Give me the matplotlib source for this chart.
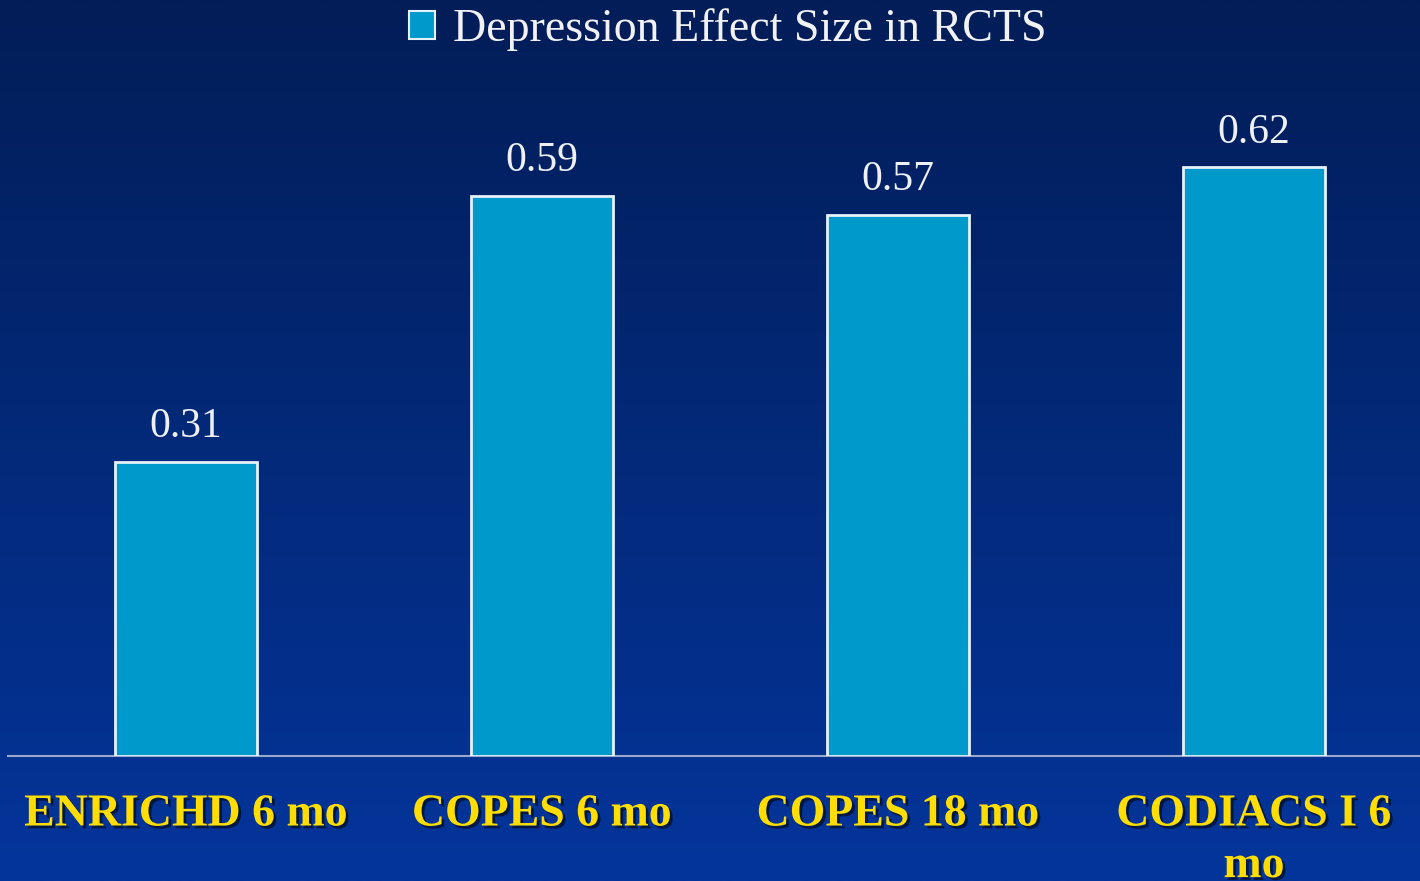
import numpy as np
import matplotlib
matplotlib.use("Agg")
import matplotlib.pyplot as plt
import matplotlib.patheffects as pe
from matplotlib.patches import Patch

categories = ["ENRICHD 6 mo", "COPES 6 mo", "COPES 18 mo", "CODIACS I 6\nmo"]
effect_sizes = [0.31, 0.59, 0.57, 0.62]
series_name = "Depression Effect Size in RCTS"

W, H, DPI = 1420, 881, 100
fig = plt.figure(figsize=(W / DPI, H / DPI), dpi=DPI)

# vertical gradient backdrop: deep navy at top to royal blue at bottom
bg = fig.add_axes([0, 0, 1, 1], zorder=-10)
top = np.array([0x02, 0x1d, 0x57]) / 255
bot = np.array([0x04, 0x35, 0x9b]) / 255
t = np.linspace(0, 1, 256)[:, None]
grad = top[None, :] * (1 - t) + bot[None, :] * t
bg.imshow(grad[:, None, :], aspect="auto", extent=[0, 1, 0, 1], interpolation="bilinear")
bg.set_axis_off()

serif = ["Liberation Serif", "DejaVu Serif"]

# plot area: 4 category slots of 356 px each starting at x=8, baseline at y=756
left = 8 / W
width = 4 * 356 / W
bottom = (H - 756) / H
height = 760 / H
ax = fig.add_axes([left, bottom, width, height])
ax.patch.set_alpha(0)

x = np.arange(len(categories))
bars = ax.bar(x, effect_sizes, width=0.4, color="#0099cc", edgecolor="#e6f2fa",
              linewidth=2, zorder=3)
ax.set_xlim(-0.5, len(categories) - 0.5)
ax.set_ylim(0, 0.8)

for xi, v in zip(x, effect_sizes):
    ax.annotate(f"{v:.2f}", (xi, v), xytext=(0, 11), textcoords="offset points",
                ha="center", va="bottom", color="#eef0f6", fontsize=30, family=serif)

for s in ["top", "right", "left"]:
    ax.spines[s].set_visible(False)
ax.spines["bottom"].set_color("#9aa8cc")
ax.spines["bottom"].set_linewidth(1.5)
ax.set_yticks([])
ax.set_xticks(x)
ax.set_xticklabels(categories, family=serif, fontsize=33, fontweight="bold",
                   color="#ffdd00", linespacing=1.3)
ax.tick_params(axis="x", length=0, pad=27)
for lbl in ax.get_xticklabels():
    lbl.set_path_effects([pe.withSimplePatchShadow(offset=(2, -2), alpha=0.55,
                                                  shadow_rgbFace="#000000")])
    lbl.set_verticalalignment("top")

handle = Patch(facecolor="#0099cc", edgecolor="#e6f2fa", linewidth=1.5)
leg = fig.legend([handle], [series_name], loc="center",
                 bbox_to_anchor=(728 / W, 1 - 30 / H), frameon=False,
                 prop={"family": serif, "size": 33}, labelcolor="#f2f2f6",
                 handlelength=0.55, handleheight=0.55, handletextpad=0.4)

fig.savefig("out.png", dpi=DPI)
